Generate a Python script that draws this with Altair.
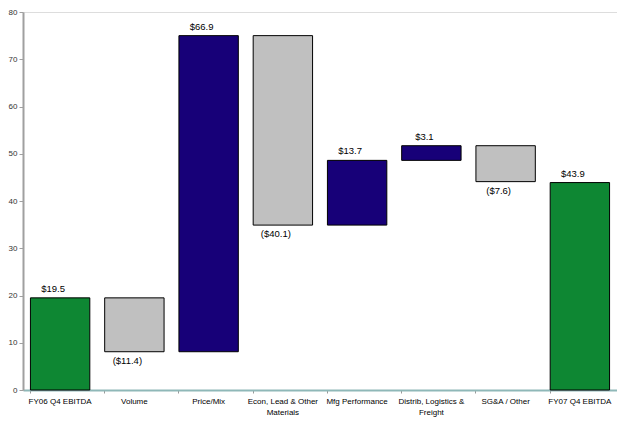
import altair as alt
import pandas as pd

categories = ["FY06 Q4 EBITDA", "Volume", "Price/Mix", "Econ, Lead & Other Materials",
              "Mfg Performance", "Distrib, Logistics & Freight", "SG&A / Other", "FY07 Q4 EBITDA"]
deltas = [19.5, -11.4, 66.9, -40.1, 13.7, 3.1, -7.6, 43.9]
kinds = ["total", "neg", "pos", "neg", "pos", "pos", "neg", "total"]

rows = []
running = 0.0
for cat, d, k in zip(categories, deltas, kinds):
    if k == "total":
        start, end = 0.0, d
        running = d
    else:
        start, end = running, running + d
        running = end
    lo, hi = min(start, end), max(start, end)
    if k == "neg":
        text = "(${:.1f})".format(abs(d))
        ly = lo
    else:
        text = "${:.1f}".format(d)
        ly = hi
    rows.append(dict(cat=cat, lo=lo, hi=hi, kind=k, text=text, ly=ly))
df = pd.DataFrame(rows)

label_expr = ("datum.value == 'Econ, Lead & Other Materials' ? ['Econ, Lead & Other', 'Materials'] : "
              "datum.value == 'Distrib, Logistics & Freight' ? ['Distrib, Logistics &', 'Freight'] : datum.value")

x = alt.X("cat:N", sort=categories, title=None,
          scale=alt.Scale(paddingInner=0.2, paddingOuter=0.1),
          axis=alt.Axis(labelAngle=0, labelExpr=label_expr, labelFontSize=8, labelColor="#000000",
                        labelFont="Liberation Sans", domainColor="#8FB8B8", domainWidth=2,
                        tickColor="#999999", tickSize=3, bandPosition=0, labelPadding=4,
                        labelLineHeight=11))
y_scale = alt.Scale(domain=[0, 80], nice=False)

bars = alt.Chart(df).mark_bar(stroke="#000000", strokeWidth=1).encode(
    x=x,
    y=alt.Y("lo:Q", scale=y_scale, title=None,
            axis=alt.Axis(values=list(range(0, 81, 10)), grid=False, labelFontSize=8,
                          labelColor="#333333", labelFont="Liberation Sans", labelPadding=2,
                          domainColor="#A0A0A0", domainWidth=2, tickColor="#A0A0A0", tickSize=4)),
    y2="hi:Q",
    color=alt.Color("kind:N", scale=alt.Scale(domain=["total", "pos", "neg"],
                                               range=["#0E8733", "#170078", "#C0C0C0"]), legend=None),
)

top_labels = alt.Chart(df).transform_filter("datum.kind != 'neg'").mark_text(
    baseline="bottom", dy=-4, dx=-7, fontSize=9.5, font="Liberation Sans", color="#000000"
).encode(x=alt.X("cat:N", sort=categories), y=alt.Y("ly:Q", scale=y_scale), text="text:N")

bot_labels = alt.Chart(df).transform_filter("datum.kind == 'neg'").mark_text(
    baseline="top", dy=4, dx=-7, fontSize=9.5, font="Liberation Sans", color="#000000"
).encode(x=alt.X("cat:N", sort=categories), y=alt.Y("ly:Q", scale=y_scale), text="text:N")

chart = alt.layer(bars, top_labels, bot_labels).properties(
    width=594, height=378,
    autosize=alt.AutoSizeParams(type="none"),
    padding={"left": 15, "top": 4, "right": 0, "bottom": 30},
).configure_view(stroke="#BDBDBD", strokeWidth=2).configure(background="#FFFFFF")

chart.save("out.html", embed_options={"renderer": "svg", "actions": False})
